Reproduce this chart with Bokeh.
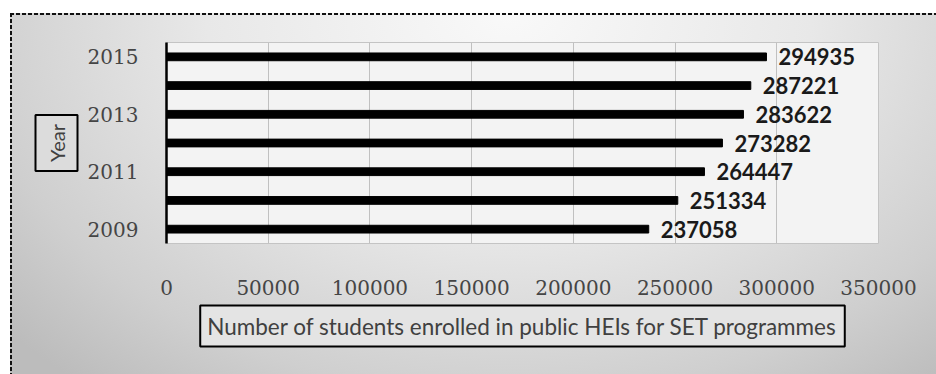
from bokeh.plotting import figure
from bokeh.models import Range1d, FixedTicker, LabelSet, ColumnDataSource, Title
from bokeh.core.properties import value
from bokeh.embed import file_html
from bokeh.resources import INLINE

years = [2009, 2010, 2011, 2012, 2013, 2014, 2015]
students = [237058, 251334, 264447, 273282, 283622, 287221, 294935]
labels = [str(v) for v in students]
x_ticks = [0, 50000, 100000, 150000, 200000, 250000, 300000, 350000]
y_ticks = [2009, 2011, 2013, 2015]
x_title = "Number of students enrolled in public HEIs for SET programmes"
y_title = "Year"

p = figure(width=936, height=374, output_backend="svg", toolbar_location=None,
           x_range=Range1d(0, 350000), y_range=Range1d(2008.5, 2015.5),
           min_border_left=166, min_border_right=58, min_border_top=42,
           min_border_bottom=131)
p.border_fill_color = None
p.background_fill_color = "#f3f3f3"
p.outline_line_color = "#c4c4c4"

dash_h = "repeating-linear-gradient(90deg, #111 0px, #111 4px, transparent 4px, transparent 6px)"
dash_v = "repeating-linear-gradient(180deg, #111 0px, #111 4px, transparent 4px, transparent 6px)"
shade = "radial-gradient(ellipse 70% 120% at 52% 0%, #f9f9f9 0%, #e8e8e8 45%, #cfcfcf 80%, #bcbcbc 100%)"
p.styles = {
    "background-color": "white",
    "background-image": f"{dash_h}, {dash_v}, {shade}",
    "background-position": "10px 13px, 10px 13px, 10px 13px",
    "background-size": "960px 2px, 2px 400px, 960px 400px",
    "background-repeat": "no-repeat",
}

src = ColumnDataSource(dict(y=years, x=students, t=labels))
p.hbar(y="y", right="x", left=0, height=0.27, color="black", source=src)
p.add_layout(LabelSet(x="x", y="y", text="t", source=src, x_offset=12,
                      text_baseline="middle", text_font=value("Lato"),
                      text_font_style="bold", text_font_size="22px",
                      text_color="#1a1a1a"))

p.xaxis.ticker = FixedTicker(ticks=x_ticks)
p.yaxis.ticker = FixedTicker(ticks=y_ticks)
p.xaxis.axis_line_color = None
p.xaxis.major_tick_line_color = None
p.xaxis.minor_tick_line_color = None
p.yaxis.axis_line_color = "black"
p.yaxis.axis_line_width = 2.5
p.yaxis.major_tick_line_color = None
p.yaxis.minor_tick_line_color = None
for ax in (p.xaxis, p.yaxis):
    ax.major_label_text_font = "DejaVu Serif"
    ax.major_label_text_font_size = "20px"
    ax.major_label_text_color = "#454545"
p.xaxis.major_label_standoff = 30
p.yaxis.major_label_standoff = 22
p.xaxis.formatter.use_scientific = False

p.xgrid.grid_line_color = "#c0c0c0"
p.ygrid.grid_line_color = None

p.add_layout(Title(text=x_title, align="center", text_font="Lato",
                   text_font_size="22.5px", text_font_style="normal",
                   text_color="#404040", border_line_color="black",
                   border_line_width=2, background_fill_color="#e4e4e4",
                   padding=7, standoff=12), "below")
p.add_layout(Title(text=y_title, align="center", text_font="Lato",
                   text_font_size="20px", text_font_style="normal",
                   text_color="#404040", border_line_color="black",
                   border_line_width=2, background_fill_color="#dcdcdc",
                   padding=9, standoff=14), "left")

open("out.html", "w").write(file_html(p, INLINE))
